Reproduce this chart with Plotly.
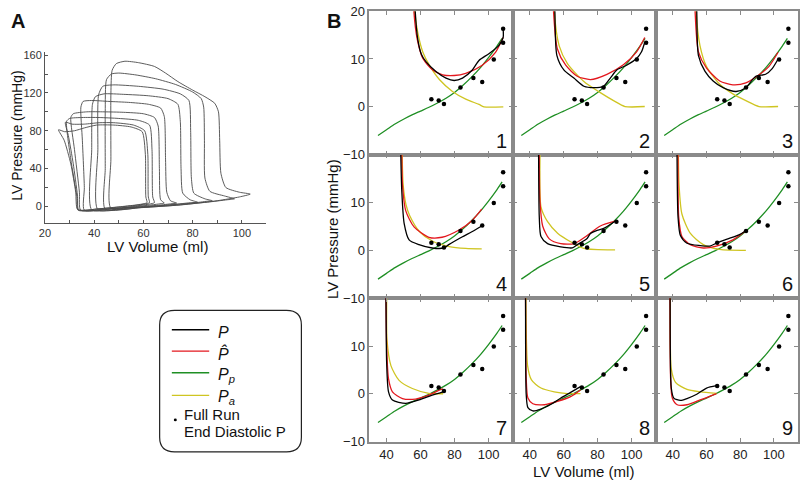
import plotly.graph_objects as go

# ---------------- Panel A : PV loops (volume ml, pressure mmHg) ----------------
loop_v = [
    [46.8, 60, 75, 90, 99, 103.4, 99, 93.5, 91.5, 91, 90.5, 89, 85, 80, 74, 69, 64.5, 58, 52.5, 49, 47.3, 46.8, 46.8, 46.8],
    [44.5, 58, 72, 86, 94, 97, 93, 87, 85, 84.8, 84.5, 83.5, 80, 73, 65, 57, 50, 47, 45, 44.5, 44.5, 44.5],
    [41.5, 55, 68, 80, 86, 88, 85, 80.5, 79.5, 79.2, 78.5, 75, 68, 58, 48, 43.5, 41.8, 41.5, 41.5],
    [39, 52, 64, 74, 79.5, 82, 79, 76, 75.3, 75, 74, 70, 62, 52, 44, 40.5, 39.3, 39, 39],
    [36, 48, 58, 67, 72, 73.5, 71, 69.5, 69, 68.5, 67, 62, 54, 46, 39, 35.5, 34.6, 35.2, 36, 36],
    [34.5, 46, 56, 63, 67.5, 68.5, 67, 66.5, 66, 64.5, 60, 52, 44, 37, 31.5, 30.5, 32, 34, 34.5],
    [33.5, 44, 53, 60, 63.5, 64.5, 63.8, 63.5, 62.5, 58, 50, 42, 35, 30, 28.8, 30.5, 33, 33.5],
    [33.7, 42, 51, 58, 61.5, 62.5, 62, 61.8, 60.5, 56, 48, 42, 36, 31, 28.3, 29.5, 31.5, 33.2, 33.7],
    [33.3, 42, 50, 57, 60.5, 61.5, 61, 60.8, 59.5, 55, 48, 41, 36, 32, 28, 25.5, 27.8, 30.5, 32.5, 33.3],
]
loop_p = [
    [-2, -1, 1.5, 6, 10, 13, 15, 20, 35, 70, 100, 109, 116, 123, 132, 141, 148, 152, 153.5, 151, 144, 120, 50, -2],
    [-3, -1.5, 1, 4.5, 7, 8, 11, 16, 30, 70, 105, 114, 121, 129, 135, 139, 141, 140, 134, 100, 40, -3],
    [-3.5, -1.5, 1, 3.5, 5.5, 6, 8, 14, 30, 80, 112, 119, 124, 127, 128.5, 127, 118, 60, -3.5],
    [-3.5, -2, 0, 2.5, 4, 4.5, 7, 14, 40, 90, 108, 114, 117, 118.5, 119, 116, 108, 60, -3.5],
    [-4, -2.5, -0.5, 1.5, 3, 3.5, 6, 15, 50, 95, 104, 108, 110, 111, 112, 111, 105, 70, 20, -4],
    [-4, -2.5, -0.5, 1.5, 3, 3.5, 7, 40, 85, 94, 98, 99.5, 100, 100, 98, 94, 60, 15, -4],
    [-4, -3, -1, 1.5, 3, 4, 10, 60, 86, 91, 93, 94, 94, 93, 90, 50, 10, -4],
    [-3.5, -2.5, -0.5, 1.5, 3, 4, 10, 55, 80, 86, 88.5, 88.5, 87, 87, 89, 75, 45, 12, -3.5],
    [-3.5, -2.5, -0.5, 1.5, 3, 4, 10, 55, 79, 84, 86, 86, 83, 80, 79, 81, 70, 45, 15, -3.5],
]

# ---------------- Panel B : diastolic pressure fits, 9 beats ----------------
green_v = [35, 40, 45, 50, 55, 60, 65, 70, 75, 80, 85, 90, 95, 100, 105, 108]
green_p = [-6.0, -4.8, -3.6, -2.6, -1.7, -0.9, -0.1, 0.8, 1.8, 3.0, 4.5, 6.2, 8.1, 10.3, 12.7, 14.3]

edp_v = [66.4, 70.7, 73.8, 83.5, 91.1, 96.3, 103.1, 108.6, 108.6]
edp_p = [1.6, 1.3, 0.6, 4.05, 6.0, 5.2, 9.9, 16.3, 13.4]

black_v = [
    [56.6, 56.9, 58.4, 60.5, 63.3, 69.1, 75, 79.8, 84.7, 90.5, 94.4, 100.2, 106, 108.6, 108.6],
    [54.6, 54.8, 56.0, 60.2, 66.0, 71.9, 77.7, 83.5, 87.5, 91.3, 97.1, 103.0, 105.9, 107.8],
    [54.1, 54.3, 55.3, 59.2, 64.0, 69.9, 77.6, 83.4, 89.3, 95.1, 99.0, 102.5],
    [48.2, 48.4, 49.0, 50.4, 53.3, 59.1, 66.9, 73.7, 76.6, 84.4, 90.2, 96.0],
    [45.1, 45.2, 45.6, 46.6, 50.5, 58.3, 65.1, 68.0, 73.8, 75.8, 79.7, 83.6, 90.3],
    [42.5, 42.6, 43.2, 44.6, 48.5, 56.3, 62.1, 65.9, 71.8, 79.6, 83.4],
    [39.6, 39.7, 40.1, 41.2, 43.5, 51.3, 59.1, 66.9, 73.3],
    [37.4, 37.5, 37.9, 38.9, 41.8, 46.6, 52.5, 58.3, 64.1, 69.9],
    [38.4, 38.5, 39.2, 40.7, 44.6, 48.5, 54.3, 60.1, 66.0],
]
black_p = [
    [24, 20, 14.1, 11.0, 9.4, 7.4, 6.0, 5.5, 6.0, 7.7, 9.7, 11.1, 12.8, 14.5, 16.3],
    [24, 20, 10.7, 7.66, 6.0, 4.3, 4.0, 4.3, 6.0, 7.7, 8.7, 10.1, 11.5, 13.5],
    [24, 20, 10.7, 7.4, 5.4, 4.0, 3.2, 4.0, 6.4, 6.8, 8.0, 10.0],
    [24, 20, 12.4, 5.6, 2.2, 1.2, 0.5, 0.5, 1.2, 2.8, 3.9, 5.1],
    [24, 20, 7.0, 2.9, 1.4, 0.74, 0.53, 1.2, 2.5, 3.55, 4.2, 4.6, 6.1],
    [24, 20, 7.0, 3.1, 1.5, 1.0, 0.9, 1.5, 2.3, 3.3, 4.1],
    [25, 20, 6.5, 0.4, -1.3, -2.0, -1.3, -0.3, 0.4],
    [25, 20, -0.2, -2.9, -3.6, -3.2, -2.2, -0.9, 0.3, 1.5],
    [25, 20, 1.2, -0.9, -1.4, -1.0, -0.1, 1.2, 1.7],
]
red_v = [
    [55.8, 56.1, 58.1, 61.4, 67.2, 73, 79.8, 86.6, 96.3, 104.1, 108.6],
    [53.8, 54.0, 56.3, 61.2, 68.0, 75.8, 85.5, 95.2, 103.0, 107.8],
    [53.1, 53.3, 55.3, 60.1, 67.9, 75.7, 83.4, 91.2, 97.0, 102.5],
    [48.8, 49.0, 49.4, 51.3, 56.2, 64.9, 72.7, 82.4, 90.2, 96.0],
    [45.5, 45.6, 46.0, 47.6, 51.5, 58.3, 66.1, 73.8, 81.6, 90.3],
    [43.1, 43.2, 43.6, 45.5, 50.4, 58.2, 65.9, 75.7, 83.4],
    [39.6, 39.7, 40.1, 41.2, 43.5, 49.4, 57.1, 64.9, 70.7, 73.3],
    [37.4, 37.5, 37.9, 38.9, 41.8, 48.6, 56.3, 64.1, 69.9],
    [38.3, 38.4, 38.8, 39.8, 42.7, 48.5, 56.3, 66.0],
]
red_p = [
    [24, 20, 14.1, 10.1, 7.7, 6.7, 6.55, 7.0, 8.7, 11.4, 14.5],
    [24, 20, 12.1, 8.7, 6.4, 5.7, 6.8, 8.8, 11.5, 14.5],
    [24, 20, 11.5, 8.1, 5.4, 4.6, 5.0, 6.7, 8.4, 11.4],
    [24, 20, 13.7, 8.3, 4.9, 2.74, 2.74, 4.2, 6.2, 8.6],
    [24, 20, 10.3, 5.1, 2.4, 1.4, 1.4, 3.1, 5.1, 6.1],
    [24, 20, 7.0, 2.9, 1.2, 0.5, 0.9, 2.2, 4.1],
    [25, 20, 9.9, 3.1, 0.4, -1.0, -1.1, -0.3, 0.7, 1.0],
    [25, 20, 3.2, -0.9, -2.1, -2.3, -1.6, -0.6, 0.8],
    [25, 20, 3.2, -0.9, -2.3, -2.3, -1.3, 0.05],
]
yellow_v = [
    [56.3, 56.6, 58.4, 61.4, 65.2, 71.1, 78.8, 86.6, 94.4, 97.3, 108.7],
    [54.2, 54.4, 57.3, 62.2, 71.9, 81.6, 89.4, 96.2, 107.8],
    [53.7, 53.9, 56.2, 60.1, 67.9, 75.7, 83.4, 91.2, 102.5],
    [49.0, 49.2, 49.8, 51.5, 53.6, 59.5, 67.2, 76.9, 86.6, 96.0],
    [45.8, 46.0, 46.6, 50.5, 56.4, 64.1, 71.9, 90.3],
    [43.3, 43.4, 43.8, 45.5, 50.4, 58.2, 67.9, 83.4],
    [40.0, 40.1, 40.3, 42.6, 47.4, 55.2, 64.9, 73.3],
    [37.6, 37.7, 38.7, 41.0, 46.6, 54.4, 62.2, 69.9],
    [38.5, 38.6, 39.2, 41.7, 48.5, 56.3, 66.0],
]
yellow_p = [
    [24, 20, 15.5, 11.4, 8.7, 5.7, 3.2, 1.6, 0.5, 0.0, 0.0],
    [24, 20, 12.8, 9.05, 5.3, 2.97, 1.3, 0.06, 0.06],
    [24, 20, 12.8, 8.4, 4.7, 2.7, 1.3, 0.06, 0.06],
    [24, 20, 13.7, 9.5, 7.3, 3.9, 1.9, 0.8, 0.4, 0.3],
    [24, 20, 9.1, 6.0, 3.6, 1.8, 0.4, 0.1],
    [24, 20, 13.7, 7.6, 3.6, 1.2, 0.2, 0.0],
    [25, 20, 11.3, 5.9, 2.8, 1.1, 0.1, 0.0],
    [25, 20, 5.9, 2.9, 1.2, 0.4, 0.03, 0.03],
    [25, 20, 5.2, 2.4, 0.9, 0.4, 0.1],
]

panel_labels = ["1", "2", "3", "4", "5", "6", "7", "8", "9"]
a_xticks = [20, 40, 60, 80, 100]
a_xminor = [30, 50, 70, 90]
a_yticks = [0, 40, 80, 120, 160]
a_yminor = [20, 60, 100, 140]
b_xticks = [40, 60, 80, 100]
b_yticks_top = [-10, 0, 10, 20]
b_yticks = [-10, 0, 10]

# ---------------- styling / layout ----------------
W, H = 800, 488
FONT = "Liberation Sans, Arial, sans-serif"
C_BLACK, C_RED, C_GREEN, C_YELLOW = "#000000", "#e3171e", "#1f8f24", "#cfc522"
GRAY = "#8a8a8a"


def fx(p):
    return p / W


def fy(p):
    return 1 - p / H


fig = go.Figure()

for v, p in zip(loop_v, loop_p):
    fig.add_trace(go.Scatter(x=v, y=p, mode="lines", xaxis="x", yaxis="y",
                             line=dict(color="#4a4a4a", width=0.9, shape="spline", smoothing=0.6),
                             showlegend=False, hoverinfo="skip"))

col_edges = [366.7, 511.3, 655.5, 799.0]
row_edges = [4.3, 152.3, 300.5, 448.3]

layout = dict(width=W, height=H, margin=dict(l=0, r=0, t=0, b=0),
              paper_bgcolor="white", plot_bgcolor="white", showlegend=False,
              font=dict(family=FONT, color="#222"))

layout["xaxis"] = dict(domain=[fx(39.3), fx(262)], range=[20, 109.7], anchor="y",
                       showline=True, linecolor="#555", linewidth=1, mirror=False,
                       ticks="inside", ticklen=3, tickcolor="#555", tickvals=a_xticks,
                       minor=dict(tickvals=a_xminor, ticks="inside", ticklen=3, tickcolor="#555"),
                       tickfont=dict(size=11, family=FONT, color="#333"), showgrid=False, zeroline=False)
layout["yaxis"] = dict(domain=[fy(222.7), fy(46.7)], range=[-17.4, 163], anchor="x",
                       showline=True, linecolor="#555", linewidth=1, mirror=False,
                       ticks="inside", ticklen=3, tickcolor="#555", tickvals=a_yticks,
                       minor=dict(tickvals=a_yminor, ticks="inside", ticklen=3, tickcolor="#555"),
                       tickfont=dict(size=11, family=FONT, color="#333"), showgrid=False, zeroline=False)

annotations = []
for i in range(9):
    r, c = divmod(i, 3)
    n = str(i + 2)
    xa, ya = "x" + n, "y" + n
    fig.add_trace(go.Scatter(x=green_v, y=green_p, mode="lines", xaxis=xa, yaxis=ya,
                             line=dict(color=C_GREEN, width=1.3, shape="spline", smoothing=0.8),
                             showlegend=False, hoverinfo="skip"))
    fig.add_trace(go.Scatter(x=yellow_v[i], y=yellow_p[i], mode="lines", xaxis=xa, yaxis=ya,
                             line=dict(color=C_YELLOW, width=1.3, shape="spline", smoothing=0.7),
                             showlegend=False, hoverinfo="skip"))
    fig.add_trace(go.Scatter(x=red_v[i], y=red_p[i], mode="lines", xaxis=xa, yaxis=ya,
                             line=dict(color=C_RED, width=1.3, shape="spline", smoothing=0.7),
                             showlegend=False, hoverinfo="skip"))
    fig.add_trace(go.Scatter(x=black_v[i], y=black_p[i], mode="lines", xaxis=xa, yaxis=ya,
                             line=dict(color=C_BLACK, width=1.3, shape="spline", smoothing=0.7),
                             showlegend=False, hoverinfo="skip"))
    fig.add_trace(go.Scatter(x=edp_v, y=edp_p, mode="markers", xaxis=xa, yaxis=ya,
                             marker=dict(color="black", size=4.5),
                             showlegend=False, hoverinfo="skip"))
    layout["xaxis" + n] = dict(domain=[fx(col_edges[c]), fx(col_edges[c + 1])], range=[30, 114.3],
                               anchor=ya, showline=True, linecolor=GRAY, linewidth=1.6, mirror="ticks",
                               ticks="inside", ticklen=4, tickcolor=GRAY, tickvals=b_xticks,
                               showticklabels=(r == 2), tickfont=dict(size=13, family=FONT, color="#222"),
                               showgrid=False, zeroline=False)
    layout["yaxis" + n] = dict(domain=[fy(row_edges[r + 1]), fy(row_edges[r])], range=[-10, 20],
                               anchor=xa, showline=True, linecolor=GRAY, linewidth=1.6, mirror="ticks",
                               ticks="inside", ticklen=4, tickcolor=GRAY,
                               tickvals=(b_yticks_top if r == 0 else b_yticks),
                               ticklabeloverflow="allow",
                               showticklabels=(c == 0), tickfont=dict(size=13, family=FONT, color="#222"),
                               showgrid=False, zeroline=False)
    annotations.append(dict(text=panel_labels[i], xref="paper", yref="paper",
                            x=fx(col_edges[c + 1] - 3.5), y=fy(row_edges[r + 1] - 1),
                            xanchor="right", yanchor="bottom", showarrow=False,
                            font=dict(size=20, family=FONT, color="#111")))


def txt(t, x, y, size, xanchor="center", yanchor="middle", angle=0, bold=False):
    annotations.append(dict(text=("<b>%s</b>" % t) if bold else t, xref="paper", yref="paper",
                            x=fx(x), y=fy(y), xanchor=xanchor, yanchor=yanchor, textangle=angle,
                            showarrow=False, font=dict(size=size, family=FONT, color="#111")))


txt("A", 12.5, 14, 20, bold=True)
txt("B", 330.5, 14, 20, bold=True)
txt("LV Pressure (mmHg)", 11, 133, 14, angle=-90)
txt("LV Volume (ml)", 153, 247.5, 15)
txt("LV Pressure (mmHg)", 330, 229, 15, angle=-90)
txt("LV Volume (ml)", 582.5, 479, 15)

# legend (drawn box with rounded corners)
shapes = []
x0, y0, x1, y1, rr = 155, 313, 298, 459, 15
path = ("M %f,%f L %f,%f Q %f,%f %f,%f L %f,%f Q %f,%f %f,%f L %f,%f Q %f,%f %f,%f L %f,%f Q %f,%f %f,%f Z" % (
    fx(x0 + rr), fy(y0), fx(x1 - rr), fy(y0), fx(x1), fy(y0), fx(x1), fy(y0 + rr),
    fx(x1), fy(y1 - rr), fx(x1), fy(y1), fx(x1 - rr), fy(y1),
    fx(x0 + rr), fy(y1), fx(x0), fy(y1), fx(x0), fy(y1 - rr),
    fx(x0), fy(y0 + rr), fx(x0), fy(y0), fx(x0 + rr), fy(y0)))
shapes.append(dict(type="path", path=path, xref="paper", yref="paper",
                   line=dict(color="#222", width=1.2), fillcolor="rgba(0,0,0,0)"))

leg_items = [(C_BLACK, 333, "<i>P</i>", 336),
             (C_RED, 355, "<i>P\u0302</i>", 357),
             (C_GREEN, 377.3, "<i>P</i><sub><i>p</i></sub>", 380.5),
             (C_YELLOW, 400.7, "<i>P</i><sub><i>a</i></sub>", 403)]
for col, ly, label, ty in leg_items:
    shapes.append(dict(type="line", xref="paper", yref="paper", x0=fx(167.3), x1=fx(205),
                       y0=fy(ly), y1=fy(ly), line=dict(color=col, width=1.4)))
    txt(label, 212, ty, 16, xanchor="left")
shapes.append(dict(type="circle", xref="paper", yref="paper", x0=fx(169.3), x1=fx(172.3),
                   y0=fy(427.5), y1=fy(424.5), fillcolor="black", line=dict(color="black", width=0)))
txt("Full Run", 177.5, 420.5, 15, xanchor="left")
txt("End Diastolic P", 177.5, 438, 15, xanchor="left")

layout["annotations"] = annotations
layout["shapes"] = shapes
fig.update_layout(**layout)
fig.write_html("out.html", config={"displayModeBar": False},
               post_script="document.body.style.margin='0px';document.body.style.overflow='hidden';")
